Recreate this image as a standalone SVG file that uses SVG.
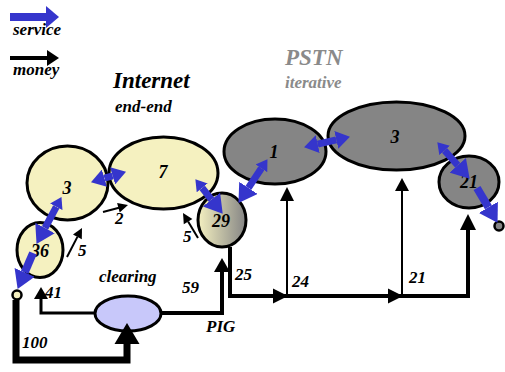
<svg xmlns="http://www.w3.org/2000/svg" width="505" height="372" viewBox="0 0 505 372">
  <defs>
    <linearGradient id="pigFill" x1="0" y1="0" x2="1" y2="0">
      <stop offset="0" stop-color="#f4f0c0"/>
      <stop offset="1" stop-color="#858585"/>
    </linearGradient>
    <marker id="svcHead" markerUnits="userSpaceOnUse" markerWidth="14" markerHeight="18" viewBox="0 0 14 18" refX="0" refY="9" orient="auto-start-reverse">
      <path d="M0,0 L14,9 L0,18 z" fill="#3535cc"/>
    </marker>
    <marker id="svcSmall" markerUnits="userSpaceOnUse" markerWidth="11" markerHeight="14" viewBox="0 0 11 14" refX="0" refY="7" orient="auto-start-reverse">
      <path d="M0,0 L11,7 L0,14 z" fill="#3535cc"/>
    </marker>
    <marker id="svcBig" markerUnits="userSpaceOnUse" markerWidth="18" markerHeight="22" viewBox="0 0 18 22" refX="0" refY="11" orient="auto-start-reverse">
      <path d="M0,0 L18,11 L0,22 z" fill="#3535cc"/>
    </marker>
    <style>
      .t { font-family: "Liberation Serif", "Times New Roman", serif; font-weight: bold; font-style: italic; fill: #000; }
      .num { font-size: 18px; text-anchor: middle; }
      .lbl { font-size: 17px; }
      .grey { fill: #8a8a8a; }
      .yel { fill: #f5f1c0; stroke: #000; stroke-width: 3; }
      .gry { fill: #858585; stroke: #000; stroke-width: 3; }
      .svc { stroke: #3535cc; stroke-width: 7; fill: none; }
      .both { marker-start: url(#svcHead); marker-end: url(#svcHead); }
      .dir { marker-start: url(#svcSmall); marker-end: url(#svcBig); }
      .out { marker-end: url(#svcBig); stroke-width: 8; }
      .money { stroke: #000; fill: none; stroke-linejoin: miter; }
      .head { fill: #000; }
    </style>
  </defs>

  <!-- legend -->
  <g id="legend">
    <rect x="10" y="13" width="37" height="8" fill="#3535cc"/>
    <polygon points="46,6 59,17 46,28" fill="#3535cc"/>
    <text class="t lbl" x="13" y="35">service</text>
    <rect x="10" y="56" width="38" height="4" fill="#000"/>
    <polygon points="47,50 59,58 47,66" fill="#000"/>
    <text class="t lbl" x="13" y="75">money</text>
  </g>

  <!-- region titles -->
  <g id="titles">
    <text class="t" x="113" y="88" font-size="23">Internet</text>
    <text class="t" x="115" y="112" font-size="17">end-end</text>
    <text class="t grey" x="285" y="65" font-size="23">PSTN</text>
    <text class="t grey" x="285" y="88" font-size="17">iterative</text>
  </g>

  <!-- nodes -->
  <g id="nodes">
    <g id="node-3a">
      <ellipse class="yel" cx="67.5" cy="183" rx="40.5" ry="37"/>
      <text class="t num" x="67" y="194">3</text>
    </g>
    <g id="node-36">
      <ellipse class="yel" cx="40" cy="250" rx="23" ry="27.5"/>
      <text class="t num" x="40" y="257">36</text>
    </g>
    <g id="node-7">
      <ellipse class="yel" cx="163.5" cy="173" rx="54.5" ry="36"/>
      <text class="t num" x="163" y="178">7</text>
    </g>
    <g id="node-29">
      <ellipse cx="222" cy="220" rx="24" ry="27" fill="url(#pigFill)" stroke="#000" stroke-width="3"/>
      <text class="t num" x="221" y="227">29</text>
    </g>
    <g id="node-1">
      <ellipse class="gry" cx="275" cy="151.5" rx="51" ry="32.5"/>
      <text class="t num" x="274" y="158">1</text>
    </g>
    <g id="node-3b">
      <ellipse class="gry" cx="396.5" cy="136" rx="68.5" ry="34"/>
      <text class="t num" x="395" y="143">3</text>
    </g>
    <g id="node-21">
      <ellipse class="gry" cx="469" cy="182" rx="30" ry="26"/>
      <text class="t num" x="469" y="188">21</text>
    </g>
    <g id="node-clearing">
      <ellipse cx="128" cy="313.5" rx="33" ry="17.5" fill="#c8c8fa" stroke="#000" stroke-width="3"/>
      <text class="t lbl" x="99" y="282">clearing</text>
    </g>
    <g id="end-left">
      <circle cx="17" cy="295" r="4.5" fill="#f5f1c0" stroke="#000" stroke-width="2.5"/>
    </g>
    <g id="end-right">
      <circle cx="499" cy="226" r="4.5" fill="#858585" stroke="#000" stroke-width="2.5"/>
    </g>
  </g>

  <!-- connectors -->
  <g id="connectors">
    <!-- money flows -->
    <path class="money" stroke-width="7" d="M16,300 V360 H127 V342"/>
    <polygon class="head" points="127,323 114.5,344 139.5,344"/>
    <text class="t lbl" x="22" y="348">100</text>

    <path class="money" stroke-width="3" d="M95,313 H41 V296"/>
    <polygon class="head" points="41,287 34,299 48,299"/>
    <text class="t lbl" x="45" y="298">41</text>

    <path class="money" stroke-width="4" d="M161,313 H222 V270"/>
    <polygon class="head" points="222,258 214,272 230,272"/>
    <text class="t lbl" x="182" y="293">59</text>
    <text class="t lbl" x="206" y="332">PIG</text>

    <path class="money" stroke-width="4" d="M230,247 V296 H468 V228"/>
    <polygon class="head" points="288,296 273,288.5 273,303.5"/>
    <polygon class="head" points="403,296 388,288.5 388,303.5"/>
    <polygon class="head" points="468,214 460,230 476,230"/>
    <text class="t lbl" x="235" y="280">25</text>

    <path class="money" stroke-width="2" d="M287,296 V199"/>
    <polygon class="head" points="287,187 280,201 294,201"/>
    <text class="t lbl" x="292" y="287">24</text>

    <path class="money" stroke-width="2" d="M402,296 V189"/>
    <polygon class="head" points="402,178 395,191 409,191"/>
    <text class="t lbl" x="409" y="283">21</text>

    <path class="money" stroke-width="2" d="M103,212 L119,207.7"/>
    <polygon class="head" points="128,205 119.7,212.5 117.1,202.9"/>
    <text class="t lbl" x="115" y="224">2</text>

    <path class="money" stroke-width="2" d="M67,257 L77.4,236.9"/>
    <polygon class="head" points="82,228 81.8,239.2 73,234.6"/>
    <text class="t lbl" x="78" y="256">5</text>

    <path class="money" stroke-width="2" d="M198,238 L188.1,221.6"/>
    <polygon class="head" points="183,213 192.4,219 183.8,224.2"/>
    <text class="t lbl" x="183" y="242">5</text>

    <!-- service flows -->
    <line class="svc both" x1="104.4" y1="178.2" x2="112.6" y2="175.8"/>
    <line class="svc dir" x1="56.3" y1="206.8" x2="45" y2="228"/>
    <line class="svc out" x1="33" y1="253" x2="24.7" y2="272.4"/>
    <line class="svc dir" x1="202.2" y1="187.9" x2="211.5" y2="199.6"/>
    <line class="svc dir" x1="261.4" y1="168.3" x2="248.4" y2="187.9"/>
    <line class="svc both" x1="317.7" y1="144.1" x2="336.3" y2="139.9"/>
    <line class="svc dir" x1="444.6" y1="150.5" x2="457.7" y2="165.3"/>
    <line class="svc out" x1="477" y1="188" x2="488.4" y2="207.3"/>
  </g>
</svg>
